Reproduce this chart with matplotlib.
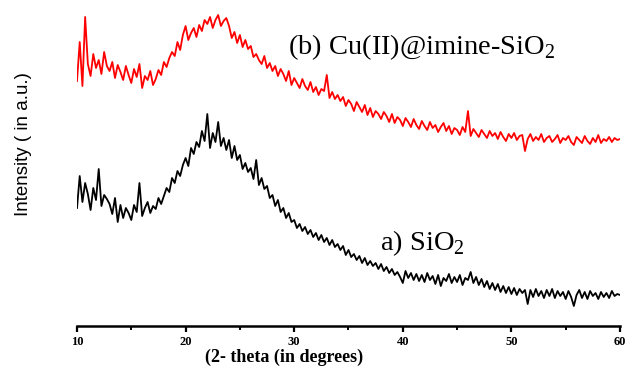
import numpy as np
import matplotlib
matplotlib.use('Agg')
import matplotlib.pyplot as plt
from matplotlib.ticker import MultipleLocator

plt.rcParams['mathtext.fontset'] = 'custom'
plt.rcParams['mathtext.rm'] = 'Liberation Serif'

# XRD traces, 2-theta 10..60 in 0.25 deg steps (a.u.)
red_b = [245, 284, 240, 309, 262, 250, 272, 258, 266, 252, 274, 260, 255, 264, 248, 261,
         254, 246, 260, 251, 243, 257, 249, 262, 238, 250, 246, 255, 241, 247, 256, 251,
         264, 259, 268, 274, 270, 284, 276, 291, 300, 286, 293, 298, 289, 301, 295, 306,
         302, 309, 298, 306, 311, 300, 305, 308, 300, 288, 294, 283, 291, 279, 286, 277,
         280, 269, 272, 266, 262, 270, 258, 263, 255, 260, 250, 257, 252, 245, 255, 241,
         248, 243, 238, 247, 240, 236, 244, 234, 239, 231, 237, 235, 251, 228, 234, 227,
         231, 225, 229, 220, 226, 222, 215, 224, 219, 214, 221, 211, 218, 209, 215, 212,
         207, 214, 210, 204, 212, 203, 209, 206, 200, 208, 204, 199, 207, 201, 197, 205,
         200, 196, 204, 198, 201, 194, 199, 203, 195, 200, 192, 198, 196, 191, 199, 194,
         215, 190, 197, 193, 189, 196, 192, 188, 195, 190, 193, 187, 194, 189, 185, 192,
         188, 193, 186, 190, 191, 175, 187, 192, 185, 189, 186, 192, 184, 188, 190, 184,
         187, 191, 183, 188, 186, 190, 184, 181, 189, 186, 183, 190, 185, 182, 188, 184,
         191, 183, 187, 185, 189, 184, 188, 186, 187]

black_a = [118, 150, 124, 143, 132, 116, 138, 126, 157, 120, 131, 127, 122, 112, 128, 104,
           121, 108, 118, 113, 106, 121, 114, 143, 110, 118, 124, 113, 120, 117, 128, 122,
           130, 138, 134, 148, 143, 155, 150, 161, 168, 160, 178, 172, 184, 179, 195, 185,
           212, 178, 193, 184, 204, 180, 188, 176, 186, 168, 180, 166, 171, 157, 163, 154,
           158, 147, 166, 141, 148, 137, 140, 128, 131, 120, 126, 114, 118, 108, 113, 104,
           106, 98, 102, 95, 99, 92, 96, 89, 93, 86, 91, 84, 88, 81, 86, 79,
           82, 76, 80, 71, 76, 69, 72, 66, 70, 63, 68, 61, 65, 60, 63, 57,
           62, 55, 59, 53, 57, 51, 54, 49, 43, 55, 48, 53, 46, 52, 45, 51,
           44, 53, 46, 50, 42, 51, 40, 48, 45, 52, 43, 49, 44, 51, 41, 48,
           46, 54, 43, 49, 41, 47, 39, 45, 37, 43, 36, 42, 34, 40, 33, 39,
           32, 38, 31, 37, 33, 36, 22, 36, 29, 37, 30, 35, 28, 36, 30, 37,
           28, 35, 30, 34, 27, 35, 29, 20, 31, 36, 28, 34, 27, 35, 30, 33,
           27, 34, 29, 33, 28, 35, 30, 32, 31]

x_red = np.linspace(10, 60, len(red_b))
x_black = np.linspace(10, 60, len(black_a))

fig = plt.figure(figsize=(6.27, 3.69), dpi=100)
ax = fig.add_axes([77/627, 43/369, 543/627, 326/369])

ax.plot(x_red, red_b, color='#ff0000', lw=1.3)
ax.plot(x_black, black_a, color='black', lw=1.3)

ax.set_xlim(10, 60)
ax.set_ylim(0, 326)

for s in ['left', 'right', 'top']:
    ax.spines[s].set_visible(False)
ax.spines['bottom'].set_linewidth(1.8)
ax.set_yticks([])
ax.xaxis.set_major_locator(MultipleLocator(10))
ax.xaxis.set_minor_locator(MultipleLocator(5))
ax.tick_params(axis='x', which='major', direction='out', length=4, width=1.6, pad=3)
ax.tick_params(axis='x', which='minor', direction='out', length=3, width=1.4)
for lab in ax.get_xticklabels():
    lab.set_fontfamily('Liberation Serif')
    lab.set_fontweight('bold')
    lab.set_fontsize(9)

ax.text(29.4, 279, r'(b) Cu(II)@imine-SiO$_2$', fontsize=20.5, family='Liberation Serif',
        va='center', ha='left')
ax.text(37.9, 83, r'a) SiO$_2$', fontsize=20.5, family='Liberation Serif',
        va='center', ha='left')

fig.text(24/627, 1 - 144/369, 'Intensity ( in a.u.)', rotation=90, fontsize=13.5,
         family='Liberation Sans', va='center', ha='center')
fig.text(284/627, 1 - 357/369, '(2- theta (in degrees)', fontsize=13,
         family='Liberation Serif', fontweight='bold', va='center', ha='center')

fig.savefig('out.png', dpi=100)
